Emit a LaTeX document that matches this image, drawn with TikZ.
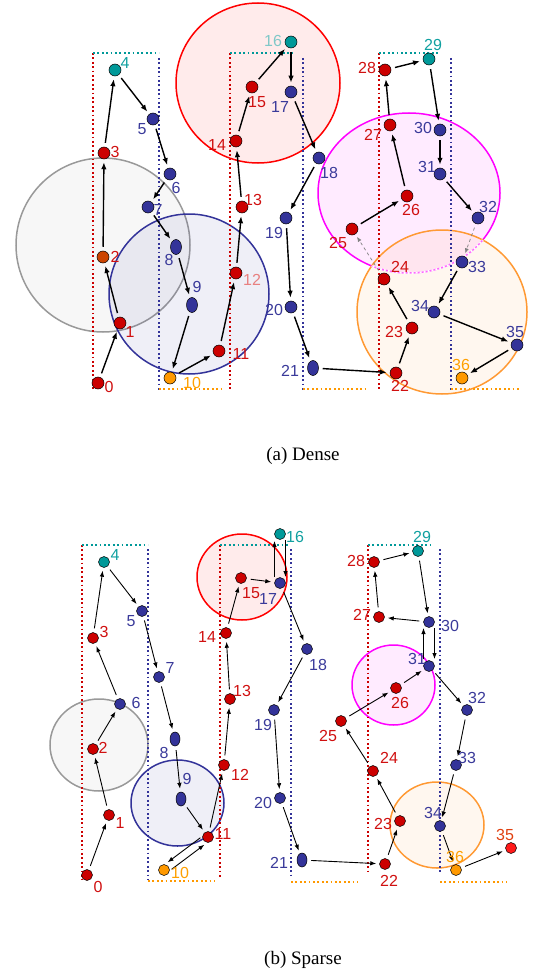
\documentclass[tikz,border=0pt]{standalone}
\usepackage{fontspec}
\setmainfont{Liberation Serif}
\newfontfamily\labfont{Liberation Sans}
\usetikzlibrary{arrows.meta,shapes.geometric}
\definecolor{nred}{HTML}{CC0000}
\definecolor{nblue}{HTML}{333399}
\definecolor{nteal}{HTML}{009999}
\definecolor{norange}{HTML}{FF9900}
\definecolor{norred}{HTML}{CC4400}
\definecolor{nbright}{HTML}{FF1A1A}
\definecolor{lred}{HTML}{D01010}
\definecolor{lblue}{HTML}{3A3A9A}
\definecolor{lteal}{HTML}{10A0A0}
\definecolor{lorange}{HTML}{FFA000}
\definecolor{lpink}{HTML}{E88080}
\definecolor{lpteal}{HTML}{80C8C8}
\definecolor{lorred}{HTML}{E04010}
\definecolor{cgray}{HTML}{999999}
\definecolor{cred}{HTML}{FF0000}
\definecolor{cblue}{HTML}{333399}
\definecolor{cmag}{HTML}{FF00FF}
\definecolor{corange}{HTML}{FF9933}
\begin{document}
\begin{tikzpicture}[x=1pt,y=-1pt,
  nd/.style={circle,draw=black,line width=0.5pt,inner sep=0pt,minimum size=12pt},
  rn/.style={nd,fill=nred},
  bn/.style={nd,fill=nblue},
  tn/.style={nd,fill=nteal},
  on/.style={nd,fill=norange},
  orn/.style={nd,fill=norred},
  brn/.style={nd,fill=nbright},
  en/.style={ellipse,draw=black,line width=0.5pt,inner sep=0pt,minimum width=11pt,minimum height=15pt,fill=nblue},
  lb/.style={font=\labfont\fontsize{16}{16}\selectfont,inner sep=0pt},
  lr/.style={lb,text=lred},
  lbl/.style={lb,text=lblue},
  lt/.style={lb,text=lteal},
  lo/.style={lb,text=lorange},
  lp/.style={lb,text=lpink},
  lpt/.style={lb,text=lpteal},
  lor/.style={lb,text=lorred},
  ea/.style={-{Latex[length=7pt,width=5.5pt]},line width=1.4pt,shorten <=4pt,shorten >=3pt},
  eb/.style={-{Latex[length=6pt,width=4.5pt]},line width=0.9pt,shorten <=4pt,shorten >=3pt},
  eg/.style={-{Latex[length=5pt,width=4pt]},line width=0.7pt,draw=gray,dashed,shorten <=4pt,shorten >=3pt},
  dotl/.style={line width=1.8pt,dash pattern=on 1.8pt off 2.6pt},
  circ/.style={line width=1.5pt,fill opacity=0.08}
]
\useasboundingbox (0,0) rectangle (536,979);

% ================= panel (a) =================
\draw[circ,cgray,fill=cgray] (103,245) ellipse [x radius=87pt,y radius=87pt];
\draw[circ,cred,fill=cred] (258,83) ellipse [x radius=82pt,y radius=80pt];
\draw[circ,cblue,fill=cblue] (189,294) ellipse [x radius=80pt,y radius=80pt];
\draw[circ,cmag,fill=cmag] (409,193) ellipse [x radius=91pt,y radius=80pt];
\draw[circ,corange,fill=corange] (442,312) ellipse [x radius=85pt,y radius=82pt];
\begin{scope}
\clip (442,312) ellipse [x radius=85pt,y radius=82pt];
\draw[white,line width=2pt] (409,193) ellipse [x radius=91pt,y radius=80pt];
\draw[cmag!60,line width=1.5pt,dash pattern=on 2pt off 2pt] (409,193) ellipse [x radius=91pt,y radius=80pt];
\end{scope}

\draw[dotl,nred] (93,53) -- (93,390);
\draw[dotl,nblue] (159,58) -- (159,390);
\draw[dotl,nteal] (93,53) -- (159,53);
\draw[dotl,norange] (159,389) -- (222,389);
\draw[dotl,nred] (230,53) -- (230,390);
\draw[dotl,nblue] (303,58) -- (303,390);
\draw[dotl,nteal] (230,53) -- (292,53);
\draw[dotl,norange] (303,389) -- (368,389);
\draw[dotl,nred] (379,53) -- (379,390);
\draw[dotl,nblue] (451,58) -- (451,390);
\draw[dotl,nteal] (379,53) -- (440,53);
\draw[dotl,norange] (451,389) -- (520,389);

\node[rn] (a0) at (98,383) {};
\node[rn] (a1) at (120,323) {};
\node[orn] (a2) at (103,257) {};
\node[rn] (a3) at (104,153) {};
\node[tn] (a4) at (115,70) {};
\node[bn] (a5) at (153,119) {};
\node[bn] (a6) at (170,174) {};
\node[bn] (a7) at (148,207) {};
\node[en] (a8) at (176,247) {};
\node[en] (a9) at (192,305) {};
\node[on] (a10) at (170,378) {};
\node[rn] (a11) at (219,351) {};
\node[rn] (a12) at (236,273) {};
\node[rn] (a13) at (242,207) {};
\node[rn] (a14) at (236,141) {};
\node[rn] (a15) at (252,87) {};
\node[tn] (a16) at (291,42) {};
\node[bn] (a17) at (291,92) {};
\node[bn] (a18) at (319,158) {};
\node[bn] (a19) at (286,218) {};
\node[bn] (a20) at (291,307) {};
\node[en] (a21) at (313,368) {};
\node[rn] (a22) at (396,373) {};
\node[rn] (a23) at (412,328) {};
\node[rn] (a24) at (384,279) {};
\node[rn] (a25) at (352,229) {};
\node[rn] (a26) at (407,196) {};
\node[rn] (a27) at (390,125) {};
\node[rn] (a28) at (385,70) {};
\node[tn] (a29) at (429,59) {};
\node[bn] (a30) at (440,130) {};
\node[bn] (a31) at (440,174) {};
\node[bn] (a32) at (478,218) {};
\node[bn] (a33) at (462,262) {};
\node[bn] (a34) at (434,312) {};
\node[bn] (a35) at (517,345) {};
\node[on] (a36) at (462,378) {};

\draw[ea] (a0) -- (a1);
\draw[ea] (a1) -- (a2);
\draw[ea] (a2) -- (a3);
\draw[ea] (a3) -- (a4);
\draw[ea] (a4) -- (a5);
\draw[ea] (a5) -- (a6);
\draw[ea] (a6) -- (a7);
\draw[ea] (a7) -- (a8);
\draw[ea] (a8) -- (a9);
\draw[ea] (a9) -- (a10);
\draw[ea] (a10) -- (a11);
\draw[ea] (a11) -- (a12);
\draw[ea] (a12) -- (a13);
\draw[ea] (a13) -- (a14);
\draw[ea] (a14) -- (a15);
\draw[ea] (a15) -- (a16);
\draw[ea] (a16) -- (a17);
\draw[ea] (a17) -- (a18);
\draw[ea] (a18) -- (a19);
\draw[ea] (a19) -- (a20);
\draw[ea] (a20) -- (a21);
\draw[ea] (a21) -- (a22);
\draw[ea] (a22) -- (a23);
\draw[ea] (a23) -- (a24);
\draw[eg] (a24) -- (a25);
\draw[ea] (a25) -- (a26);
\draw[ea] (a26) -- (a27);
\draw[ea] (a27) -- (a28);
\draw[ea] (a28) -- (a29);
\draw[ea] (a29) -- (a30);
\draw[ea] (a30) -- (a31);
\draw[ea] (a31) -- (a32);
\draw[eg] (a32) -- (a33);
\draw[ea] (a33) -- (a34);
\draw[ea] (a34) -- (a35);
\draw[ea] (a35) -- (a36);

\node[lr] (la0) at (109,387) {0};
\node[lr] (la1) at (130,332) {1};
\node[lr] (la2) at (115,257) {2};
\node[lr] (la3) at (115,152) {3};
\node[lt] (la4) at (125,63) {4};
\node[lbl] (la5) at (142,129) {5};
\node[lbl] (la6) at (176,188) {6};
\node[lbl] (la7) at (158,210) {7};
\node[lbl] (la8) at (169,260) {8};
\node[lbl] (la9) at (197,287) {9};
\node[lo] (la10) at (192,383) {10};
\node[lr] (la11) at (241,354) {11};
\node[lp] (la12) at (252,280) {12};
\node[lr] (la13) at (253,200) {13};
\node[lr] (la14) at (217,145) {14};
\node[lr] (la15) at (257,102) {15};
\node[lpt] (la16) at (273,41) {16};
\node[lbl] (la17) at (280,107) {17};
\node[lbl] (la18) at (329,173) {18};
\node[lbl] (la19) at (274,233) {19};
\node[lbl] (la20) at (274,310) {20};
\node[lbl] (la21) at (290,371) {21};
\node[lr] (la22) at (400,386) {22};
\node[lr] (la23) at (394,332) {23};
\node[lr] (la24) at (400,267) {24};
\node[lr] (la25) at (338,243) {25};
\node[lr] (la26) at (411,210) {26};
\node[lr] (la27) at (373,135) {27};
\node[lr] (la28) at (367,68) {28};
\node[lt] (la29) at (433,45) {29};
\node[lbl] (la30) at (423,128) {30};
\node[lbl] (la31) at (427,167) {31};
\node[lbl] (la32) at (488,207) {32};
\node[lbl] (la33) at (477,267) {33};
\node[lbl] (la34) at (420,306) {34};
\node[lbl] (la35) at (515,332) {35};
\node[lo] (la36) at (461,365) {36};

\node[font=\fontsize{19}{19}\selectfont,inner sep=0pt] (capa) at (303,456) {(a)\ Dense};

% ================= panel (b) =================
\begin{scope}[nd/.append style={minimum size=11pt},en/.append style={minimum width=10pt,minimum height=14pt}]
\draw[circ,cgray,fill=cgray] (99,745) ellipse [x radius=49pt,y radius=46pt];
\draw[circ,cred,fill=cred] (242,577) ellipse [x radius=45pt,y radius=43pt];
\draw[circ,cblue,fill=cblue] (177.5,803) ellipse [x radius=46.5pt,y radius=43pt];
\draw[circ,cmag,fill=cmag] (393.5,685) ellipse [x radius=41.5pt,y radius=40pt];
\draw[circ,corange,fill=corange] (437,825) ellipse [x radius=47pt,y radius=43pt];

\draw[dotl,nred] (82,545) -- (82,880);
\draw[dotl,nblue] (148,549) -- (148,880);
\draw[dotl,nteal] (82,545) -- (148,545);
\draw[dotl,norange] (148,881) -- (215,881);
\draw[dotl,nred] (220,545) -- (220,878);
\draw[dotl,nblue] (291,549) -- (291,878);
\draw[dotl,nteal] (220,545) -- (290,545);
\draw[dotl,norange] (291,882) -- (358,882);
\draw[dotl,nred] (368,545) -- (368,873);
\draw[dotl,nblue] (440,549) -- (440,873);
\draw[dotl,nteal] (368,545) -- (430,545);
\draw[dotl,norange] (440,882) -- (507,882);

\node[rn] (b0) at (87,875) {};
\node[rn] (b1) at (109,815) {};
\node[rn] (b2) at (93,749) {};
\node[rn] (b3) at (93,638) {};
\node[tn] (b4) at (104,562) {};
\node[bn] (b5) at (142,611) {};
\node[bn] (b6) at (120,704) {};
\node[bn] (b7) at (159,677) {};
\node[en] (b8) at (175,739) {};
\node[en] (b9) at (181,799) {};
\node[on] (b10) at (164,870) {};
\node[rn] (b11) at (208,837) {};
\node[rn] (b12) at (224,765) {};
\node[rn] (b13) at (230,699) {};
\node[rn] (b14) at (226,633) {};
\node[rn] (b15) at (241,578) {};
\node[tn] (b16) at (280,534) {};
\node[bn] (b17) at (280,583) {};
\node[bn] (b18) at (307,649) {};
\node[bn] (b19) at (274,710) {};
\node[bn] (b20) at (280,798) {};
\node[en] (b21) at (302,860) {};
\node[rn] (b22) at (385,864) {};
\node[rn] (b23) at (400,821) {};
\node[rn] (b24) at (373,771) {};
\node[rn] (b25) at (341,721) {};
\node[rn] (b26) at (396,688) {};
\node[rn] (b27) at (379,617) {};
\node[rn] (b28) at (374,562) {};
\node[tn] (b29) at (418,551) {};
\node[bn] (b30) at (429,622) {};
\node[bn] (b31) at (429,666) {};
\node[bn] (b32) at (467,710) {};
\node[bn] (b33) at (456,765) {};
\node[bn] (b34) at (440,826) {};
\node[brn] (b35) at (511,848) {};
\node[on] (b36) at (456,870) {};
\end{scope}

\draw[eb] (b0) -- (b1);
\draw[eb] (b1) -- (b2);
\draw[eb] (b2) -- (b6);
\draw[eb] (b6) -- (b3);
\draw[eb] (b3) -- (b4);
\draw[eb] (b4) -- (b5);
\draw[eb] (b5) -- (b7);
\draw[eb] (b7) -- (b8);
\draw[eb] (b8) -- (b9);
\draw[eb] (b9) -- (b11);
\draw[eb,shorten <=7pt,shorten >=7pt] ([shift={(-2,-3.5)}]b11.center) -- ([shift={(-2,-3.5)}]b10.center);
\draw[eb,shorten <=7pt,shorten >=7pt] ([shift={(2,3.5)}]b10.center) -- ([shift={(2,3.5)}]b11.center);
\draw[eb] (b11) -- (b12);
\draw[eb] (b12) -- (b13);
\draw[eb] (b13) -- (b14);
\draw[eb] (b14) -- (b15);
\draw[eb] (b15) -- (b17);
\draw[eb,shorten <=6pt,shorten >=7pt] ([xshift=-5.5pt]b17.center) -- ([xshift=-5.5pt]b16.center);
\draw[eb,shorten <=6pt,shorten >=6pt] ([xshift=5.5pt]b16.center) -- ([xshift=5.5pt]b17.center);
\draw[eb] (b17) -- (b18);
\draw[eb] (b18) -- (b19);
\draw[eb] (b19) -- (b20);
\draw[eb] (b20) -- (b21);
\draw[eb] (b21) -- (b22);
\draw[eb] (b22) -- (b23);
\draw[eb] (b23) -- (b24);
\draw[eb] (b24) -- (b25);
\draw[eb] (b25) -- (b26);
\draw[eb] (b26) -- (b31);
\draw[eb,shorten <=7pt,shorten >=6pt] ([xshift=-5.5pt]b31.center) -- ([xshift=-5.5pt]b30.center);
\draw[eb,shorten <=6pt,shorten >=7pt] ([xshift=5.5pt]b30.center) -- ([xshift=5.5pt]b31.center);
\draw[eb] (b30) -- (b27);
\draw[eb] (b27) -- (b28);
\draw[eb] (b28) -- (b29);
\draw[eb] (b29) -- (b30);
\draw[eb] (b31) -- (b32);
\draw[eb] (b32) -- (b33);
\draw[eb] (b33) -- (b34);
\draw[eb] (b34) -- (b36);
\draw[eb] (b36) -- (b35);

\node[lr] (lb0) at (98,887) {0};
\node[lr] (lb1) at (120,823) {1};
\node[lr] (lb2) at (103,748) {2};
\node[lr] (lb3) at (104,632) {3};
\node[lt] (lb4) at (115,555) {4};
\node[lbl] (lb5) at (131,621) {5};
\node[lbl] (lb6) at (136,703) {6};
\node[lbl] (lb7) at (170,668) {7};
\node[lbl] (lb8) at (164,753) {8};
\node[lbl] (lb9) at (187,779) {9};
\node[lo] (lb10) at (180,873) {10};
\node[lr] (lb11) at (223,834) {11};
\node[lr] (lb12) at (240,775) {12};
\node[lr] (lb13) at (242,691) {13};
\node[lr] (lb14) at (207,637) {14};
\node[lr] (lb15) at (251,593) {15};
\node[lt] (lb16) at (295,537) {16};
\node[lbl] (lb17) at (268,599) {17};
\node[lbl] (lb18) at (318,665) {18};
\node[lbl] (lb19) at (263,725) {19};
\node[lbl] (lb20) at (263,803) {20};
\node[lbl] (lb21) at (279,863) {21};
\node[lr] (lb22) at (389,881) {22};
\node[lr] (lb23) at (383,824) {23};
\node[lr] (lb24) at (389,758) {24};
\node[lr] (lb25) at (328,736) {25};
\node[lr] (lb26) at (400,703) {26};
\node[lr] (lb27) at (362,615) {27};
\node[lr] (lb28) at (356,561) {28};
\node[lt] (lb29) at (422,537) {29};
\node[lbl] (lb30) at (450,626) {30};
\node[lbl] (lb31) at (417,659) {31};
\node[lbl] (lb32) at (477,698) {32};
\node[lbl] (lb33) at (467,758) {33};
\node[lbl] (lb34) at (433,813) {34};
\node[lor] (lb35) at (505,835) {35};
\node[lo] (lb36) at (455,857) {36};

\node[font=\fontsize{19}{19}\selectfont,inner sep=0pt] (capb) at (303,960) {(b)\ Sparse};
\end{tikzpicture}
\end{document}
